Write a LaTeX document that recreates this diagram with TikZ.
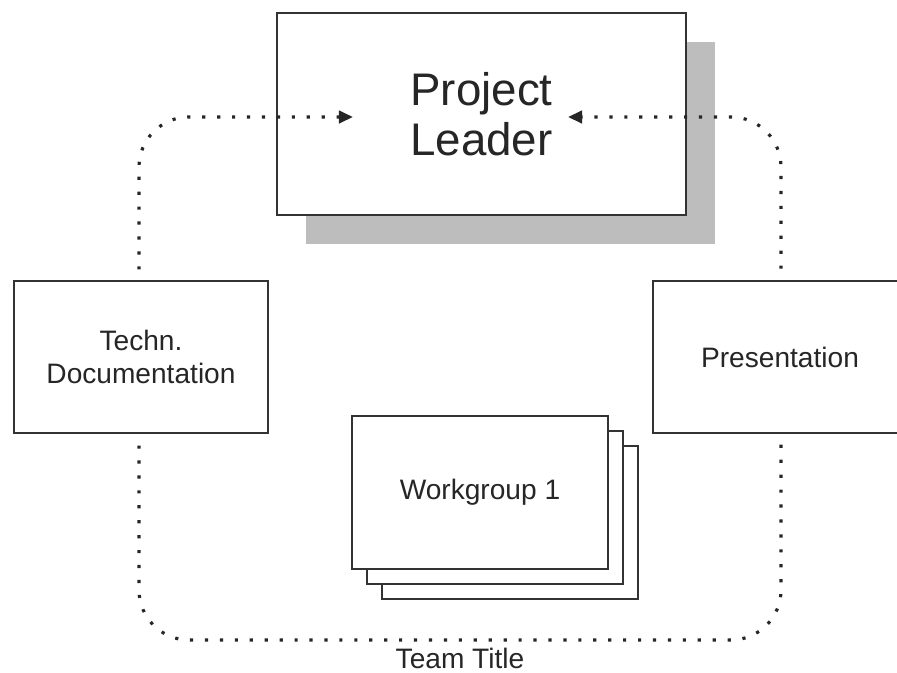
\documentclass[tikz,border=0pt]{standalone}
\usepackage{fontspec}
\setmainfont{Liberation Sans}
\usetikzlibrary{arrows.meta,shadows}

\begin{document}
\begin{tikzpicture}
    [x=0.02cm, y=-0.02cm,
    card/.style={draw=black!80, line width=1pt, fill=white, text=black!85,
        align=center, inner sep=0pt, font=\fontsize{16}{19}\selectfont},
    lead/.style={card, minimum width=8.18cm, minimum height=4.04cm,
        font=\fontsize{26}{28.5}\selectfont,
        drop shadow={shadow xshift=0.58cm, shadow yshift=-0.58cm, opacity=1, fill=black!26}},
    side/.style={card, minimum width=5.08cm, minimum height=3.04cm},
    group/.style={card, minimum width=5.12cm, minimum height=3.06cm},
    team/.style={black!85, line width=1.8pt, dash pattern=on 1.8pt off 6.7pt,
        rounded corners=1cm, {Triangle[length=8pt,width=7pt]}-{Triangle[length=8pt,width=7pt]}}]

    \useasboundingbox (0,0) rectangle (897,673);
    \clip (0,0) rectangle (897,673);

    % leader with its shadow
    \node[lead] (leader) at (481.5,114) {Project\\Leader};

    % free ends of the team loop
    \coordinate (inl) at (353,117);
    \coordinate (inr) at (568,117);

    % dotted team loop
    \draw[team] (inl) -- (139,117) -- (139,640) -- (781,640) -- (781,117) -- (inr);

    % side boxes
    \node[side] (techn) at (141,357) {Techn.\\Documentation};
    \node[side] (pres) at (780,357) {Presentation};

    % stacked workgroups
    \node[group] (wgc) at (510,522.5) {};
    \node[group] (wgb) at (495,507.5) {};
    \node[group] (wga) at (480,492.5) {Workgroup 1};

    % title of the team
    \node[text=black!85, inner sep=0pt, font=\fontsize{16}{18}\selectfont] (title) at (460,658) {Team Title};

\end{tikzpicture}
\end{document}
